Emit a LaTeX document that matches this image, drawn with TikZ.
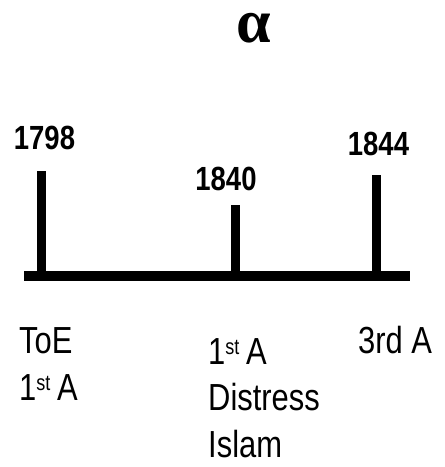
\documentclass[tikz,border=0pt]{standalone}
\usepackage{fontspec}
\newfontfamily\narrow[FakeStretch=0.82]{Liberation Sans}
\newfontfamily\greekserif{Liberation Serif}
\tikzset{
  x=1pt, y=-1pt,
  year/.style={inner sep=0pt, anchor=base, font=\narrow\bfseries\fontsize{33.5}{40}\selectfont},
  lbl/.style={inner sep=0pt, anchor=base west, align=left, font=\narrow\fontsize{37.7}{47}\selectfont},
  tick/.style={line width=9pt},
  axis/.style={line width=10pt}
}
\newcommand{\supst}{\textsuperscript{\fontsize{22}{22}\selectfont st}}
\begin{document}
\begin{tikzpicture}
\useasboundingbox (0,0) rectangle (445,467);
\node[inner sep=0pt, anchor=base, font=\greekserif\bfseries\fontsize{62}{62}\selectfont] (alpha) at (253.5,42) {α};
% axis and ticks
\coordinate (L) at (24,276);
\coordinate (R) at (410,276);
\coordinate (t1b) at (41.5,276);
\coordinate (t1) at (41.5,171);
\coordinate (t2b) at (235.5,276);
\coordinate (t2) at (235.5,205);
\coordinate (t3b) at (376,276);
\coordinate (t3) at (376,175);
\draw[axis] (L) -- (R);
\draw[tick] (t1b) -- (t1);
\draw[tick] (t2b) -- (t2);
\draw[tick] (t3b) -- (t3);
% years
\node[year] (y1) at (44.5,149) {1798};
\node[year] (y2) at (226,190) {1840};
\node[year] (y3) at (378.5,155) {1844};
% labels (anchor = baseline of last line)
\node[lbl] (a1) at (19,400) {ToE\\1\supst\,A};
\node[lbl, font=\narrow\fontsize{37.7}{46.5}\selectfont] (a2) at (208,457) {1\supst\,A\\Distress\\Islam};
\node[lbl] (a3) at (358,353) {3rd A};
\end{tikzpicture}
\end{document}
